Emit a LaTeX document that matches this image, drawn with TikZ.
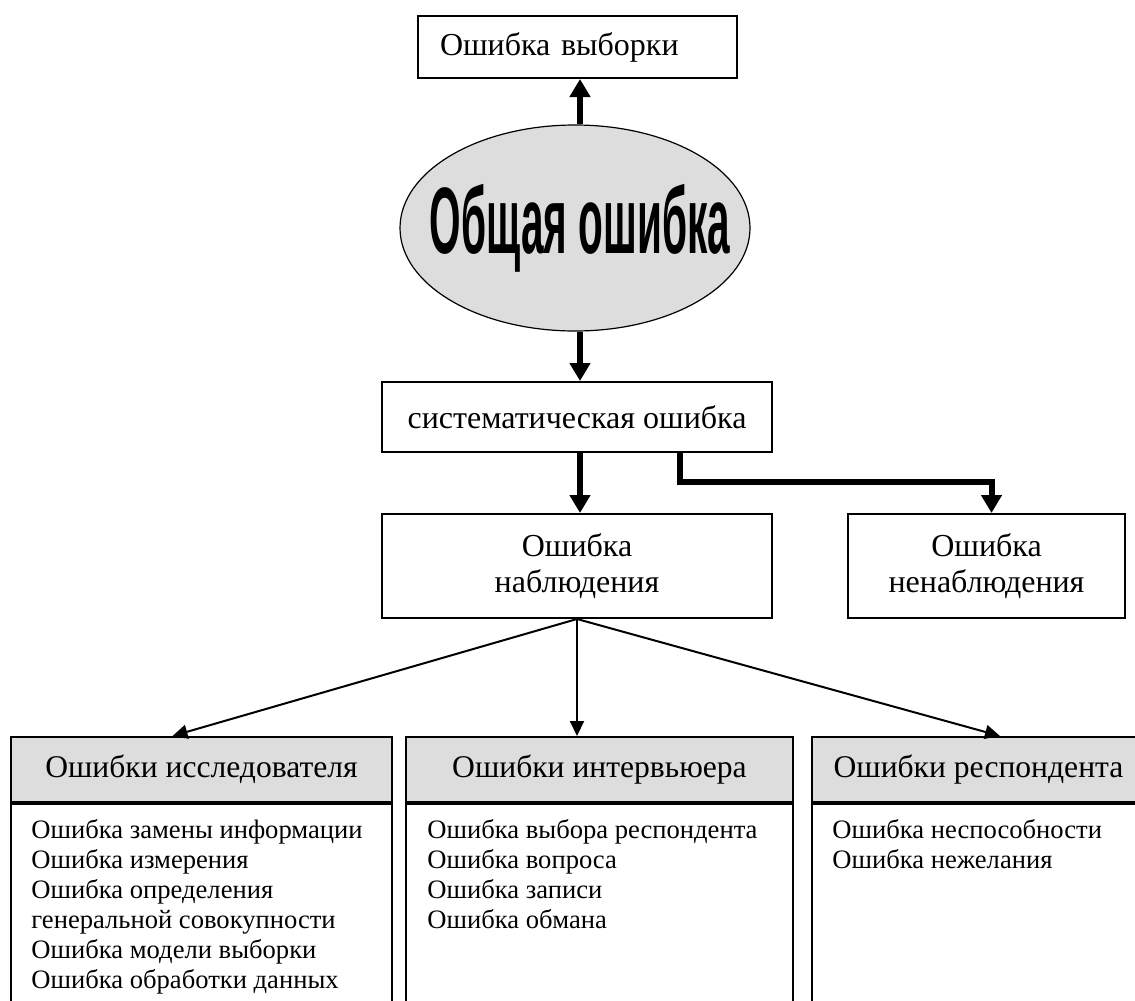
\documentclass[tikz,border=0pt]{standalone}
\usepackage{fontspec}
\setmainfont{Liberation Serif}
\setsansfont{Liberation Sans}
\usepackage{tikz}
\usetikzlibrary{
  arrows.meta,      % Triangle 箭头
  shapes.geometric, % 椭圆节点
  positioning       % 节点相对定位
}
\definecolor{hdrgray}{RGB}{221,221,221}

\begin{document}
\begin{tikzpicture}[x=0.5pt, y=-0.5pt, % 1单位 = 原图1像素
  boxline/.style={draw, line width=1pt},
  topbox/.style={boxline, rectangle, align=center, inner sep=0pt,
    font=\fontsize{16}{18}\selectfont},
  hdrbox/.style={boxline, rectangle, fill=hdrgray, inner sep=0pt,
    minimum height=32.5pt, font=\fontsize{15.8}{18}\selectfont},
  bodybox/.style={boxline, rectangle, anchor=north, minimum height=130pt},
  bodytext/.style={anchor=north west, align=left, inner sep=0pt,
    font=\fontsize{13.3}{15}\selectfont},
  bigarrow/.style={line width=3pt, -{Triangle[width=10pt, length=9pt]}},
  thinarrow/.style={line width=1pt, -{Triangle[width=7pt, length=7.5pt]}}
]
  \path[use as bounding box, clip] (0,0) rectangle (1135,1001);

  % =============== 上部：总误差 ===============
  \node[topbox, minimum width=159.5pt, minimum height=31pt,
    text width=137.5pt, inner xsep=11pt, align=left] (sample) at (577.5,47) {Ошибка выборки};
  \node[ellipse, draw, line width=0.6pt, fill=hdrgray,
    minimum width=175pt, minimum height=103pt] (total) at (575,228) {};
  \node[inner sep=0pt] (totaltext) at (580,228)
    {\resizebox*{150pt}{44pt}{\sffamily\bfseries Общая ошибка}};
  \node[topbox, minimum width=195pt, minimum height=35pt] (sys) at (577,417) {систематическая ошибка};
  \node[topbox, minimum width=195pt, minimum height=52pt] (obs) at (577,566) {Ошибка\\наблюдения};
  \node[topbox, minimum width=138.5pt, minimum height=52pt] (nonobs) at (986.5,566) {Ошибка\\ненаблюдения};

  % 粗箭头
  \draw[bigarrow] (total.north -| 580,0) -- (sample.south -| 580,0);
  \draw[bigarrow] (total.south -| 580,0) -- (sys.north -| 580,0);
  \draw[bigarrow] (sys.south -| 580,0) -- (obs.north -| 580,0);
  \coordinate (bend) at (680,482);
  \draw[bigarrow] (sys.south -| bend) -- (bend) -| ([xshift=2.5pt]nonobs.north);

  % =============== 下部：三类误差 ===============
  \node[hdrbox, minimum width=190.5pt] (hdrA) at (201.5,769.5) {Ошибки исследователя};
  \node[hdrbox, minimum width=193.5pt] (hdrB) at (599.5,769.5) {Ошибки интервьюера};
  \node[hdrbox, minimum width=166.5pt] (hdrC) at (978.5,769.5) {Ошибки респондента};

  \node[bodybox, minimum width=190.5pt] (bodyA) at (hdrA.south) {};
  \node[bodybox, minimum width=193.5pt] (bodyB) at (hdrB.south) {};
  \node[bodybox, minimum width=166.5pt] (bodyC) at (hdrC.south) {};

  \node[bodytext] (listA) at ([xshift=10.5pt, yshift=-8pt]bodyA.north west)
    {Ошибка замены информации\\Ошибка измерения\\Ошибка определения\\генеральной совокупности\\Ошибка модели выборки\\Ошибка обработки данных};
  \node[bodytext] (listB) at ([xshift=11pt, yshift=-8pt]bodyB.north west)
    {Ошибка выбора респондента\\Ошибка вопроса\\Ошибка записи\\Ошибка обмана};
  \node[bodytext] (listC) at ([xshift=10.5pt, yshift=-8pt]bodyC.north west)
    {Ошибка неспособности\\Ошибка нежелания};

  % 细箭头
  \draw[thinarrow] (obs.south) -- ([xshift=-14.5pt]hdrA.north);
  \draw[thinarrow] (obs.south) -- (obs.south |- hdrB.north);
  \draw[thinarrow] (obs.south) -- ([xshift=10.75pt]hdrC.north);
\end{tikzpicture}
\end{document}
